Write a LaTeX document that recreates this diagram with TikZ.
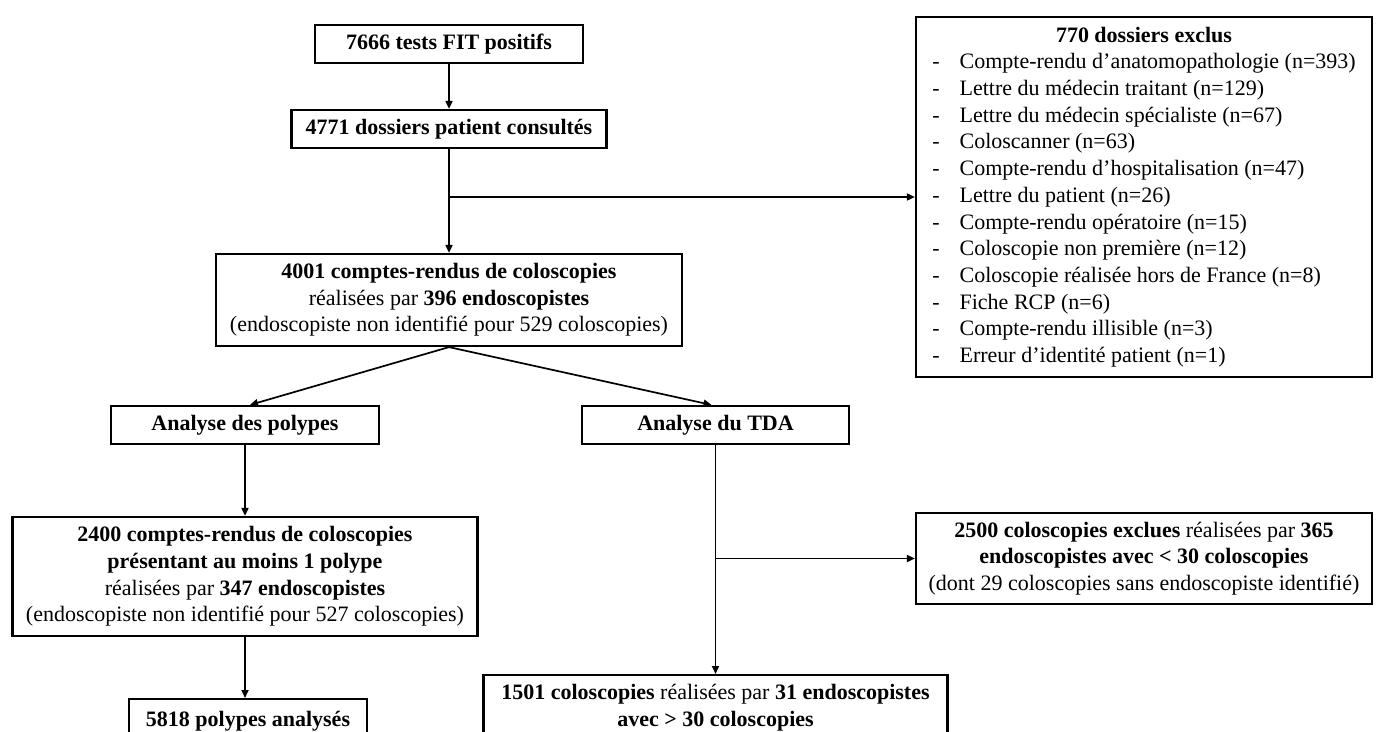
\documentclass[tikz,border=0pt]{standalone}
\usepackage{fontspec}
\setmainfont{Liberation Serif}
\usetikzlibrary{arrows.meta}
\newcommand\fs{\fontsize{22}{26.7}\selectfont}
\begin{document}
\begin{tikzpicture}[x=1pt,y=-1pt,
  box/.style={draw, line width=2.2pt, align=center, inner sep=0pt, font=\fs},
  conn/.style={line width=1.7pt, -{Triangle[length=8pt,width=7pt]}},
  plain/.style={line width=1.7pt}]
\useasboundingbox (0,0) rectangle (1376,731);
\clip (0,0) rectangle (1376,731);

\node[box, minimum width=268pt, minimum height=38pt] (n1) at (449,44) {\textbf{7666 tests FIT positifs}};
\node[box, minimum width=315pt, minimum height=38pt] (n2) at (449,129) {\textbf{4771 dossiers patient consultés}};
\node[box, minimum width=466pt, minimum height=92pt] (n3) at (449,300) {\textbf{4001 comptes-rendus de coloscopies}\\ réalisées par \textbf{396 endoscopistes}\\ (endoscopiste non identifié pour 529 coloscopies)};
\node[box, minimum width=456pt, minimum height=360pt] (excl) at (1144,197) {\begin{tabular}{@{}l@{\hspace{20pt}}l@{}}
\multicolumn{2}{c}{\textbf{770 dossiers exclus}}\\
- & Compte-rendu d’anatomopathologie (n=393)\\
- & Lettre du médecin traitant (n=129)\\
- & Lettre du médecin spécialiste (n=67)\\
- & Coloscanner (n=63)\\
- & Compte-rendu d’hospitalisation (n=47)\\
- & Lettre du patient (n=26)\\
- & Compte-rendu opératoire (n=15)\\
- & Coloscopie non première (n=12)\\
- & Coloscopie réalisée hors de France (n=8)\\
- & Fiche RCP (n=6)\\
- & Compte-rendu illisible (n=3)\\
- & Erreur d’identité patient (n=1)
\end{tabular}};
\node[box, minimum width=268pt, minimum height=38pt] (pol) at (245,425) {\textbf{Analyse des polypes}};
\node[box, minimum width=267pt, minimum height=38pt] (tda) at (715.5,425) {\textbf{Analyse du TDA}};
\node[box, minimum width=465pt, minimum height=119pt] (n2400) at (245,576.5) {\textbf{2400 comptes-rendus de coloscopies}\\ \textbf{présentant au moins 1 polype}\\ réalisées par \textbf{347 endoscopistes}\\ (endoscopiste non identifié pour 527 coloscopies)};
\node[box, minimum width=456pt, minimum height=91pt] (n2500) at (1144,558.5) {\textbf{2500 coloscopies exclues} réalisées par \textbf{365}\\ \textbf{endoscopistes avec < 30 coloscopies}\\ (dont 29 coloscopies sans endoscopiste identifié)};
\node[box, minimum width=238pt, minimum height=44pt, anchor=north] (n5818) at (248,698) {\textbf{5818 polypes analysés}};
\node[box, minimum width=464pt, minimum height=65pt, anchor=north] (n1501) at (715.5,674) {\textbf{1501 coloscopies} réalisées par \textbf{31 endoscopistes}\\ \textbf{avec > 30 coloscopies}};

\coordinate (b1) at (n2.south |- excl.west);
\coordinate (b2) at (tda.south |- n2500.west);
\draw[conn] (n1.south) -- (n2.north);
\draw[conn] (n2.south) -- (n3.north);
\draw[conn] (b1) -- (excl.west);
\draw[conn] (n3.south) -- ([xshift=5pt]pol.north);
\draw[conn] (n3.south) -- ([xshift=-4pt]tda.north);
\draw[conn] (pol.south) -- (n2400.north);
\draw[conn] (n2400.south) -- (n2400.south |- n5818.north);
\draw[conn] (tda.south) -- (n1501.north);
\draw[conn] (b2) -- (n2500.west);
\end{tikzpicture}
\end{document}
